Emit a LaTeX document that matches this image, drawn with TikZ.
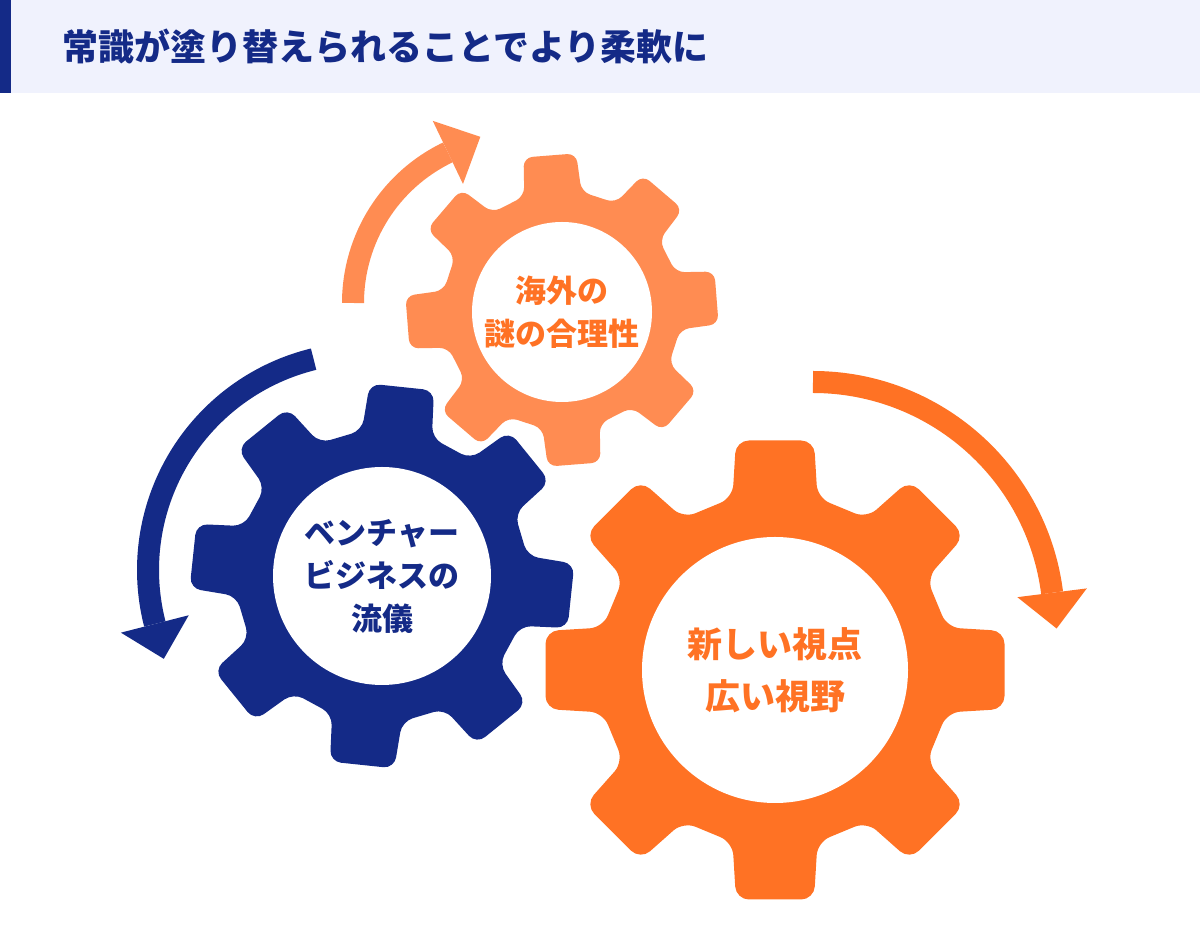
\documentclass[tikz,border=0pt]{standalone}
\usepackage{fontspec}
\newfontfamily\jp{Noto Sans CJK JP}
\usetikzlibrary{calc}
\definecolor{navy}{RGB}{20,42,135}
\definecolor{lorange}{RGB}{255,140,82}
\definecolor{dorange}{RGB}{255,114,36}
\definecolor{hdrbg}{RGB}{240,242,253}

% #1 x, #2 y, #3 outer radius, #4 rotation, #5 colour, #6 corner rounding
\newcommand{\drawgear}[6]{%
  \pgfmathsetmacro{\gRb}{0.7725*#3}%
  \pgfmathsetmacro{\gRt}{1.0144*#3}%
  \pgfmathsetmacro{\gRs}{0.7637*#3}%
  \begin{scope}[shift={(#1,#2)}]
    \fill[#5, rounded corners=#6] (#4-22.5:\gRs)
      \foreach \k in {0,...,7}{
        -- (#4+\k*45-13.86:\gRb) -- (#4+\k*45-9.65:\gRt)
        -- (#4+\k*45+9.65:\gRt) -- (#4+\k*45+13.86:\gRb)
      } -- cycle;
  \end{scope}}

% #1 x, #2 y, #3 radius, #4 start angle, #5 end angle, #6 colour, #7 direction (+1 ccw, -1 cw)
\newcommand{\arcarrow}[7]{%
  \pgfmathsetmacro{\aRo}{#3+35}%
  \pgfmathsetmacro{\aRi}{#3-35}%
  \pgfmathsetmacro{\aTd}{#5+#7*90}%
  \draw[#6, line width=22] (#1,#2) ++(#4:#3) arc[start angle=#4, end angle=#5, radius=#3];
  \fill[#6] ($(#1,#2)+(#5:\aRo)$) -- ($(#1,#2)+(#5:\aRi)$)
    -- ($(#1,#2)+(#5:#3)+(\aTd:36)$) -- cycle;}

\begin{document}
\begin{tikzpicture}[x=1pt,y=1pt]
\useasboundingbox (0,0) rectangle (1200,926);
\fill[white] (0,0) rectangle (1200,926);

% header
\fill[hdrbg] (0,833) rectangle (1200,926);
\fill[navy] (0,833) rectangle (11,926);
\node[font=\jp\bfseries\fontsize{36}{42}\selectfont, text=navy, anchor=west, inner sep=0]
  (title) at (62,879) {常識が塗り替えられることでより柔軟に};

% gears
\drawgear{562}{616}{155}{4.5}{lorange}{9pt}
\drawgear{382}{350}{190}{-6}{navy}{11pt}
\drawgear{775}{256}{229.5}{0}{dorange}{13pt}

\node[circle, fill=white, inner sep=0, minimum size=180] (hole1) at (562,614) {};
\node[circle, fill=white, inner sep=0, minimum size=218] (hole2) at (382,350) {};
\node[circle, fill=white, inner sep=0, minimum size=266] (hole3) at (775,256) {};

\node[font=\jp\bfseries\fontsize{31}{43}\selectfont, text=dorange, align=center]
  (t1) at (hole1) {海外の\\謎の合理性};
\node[font=\jp\bfseries\fontsize{31}{43}\selectfont, text=navy, align=center]
  (t2) at (hole2) {ベンチャー\\ビジネスの\\流儀};
\node[font=\jp\bfseries\fontsize{35}{52}\selectfont, text=dorange, align=center]
  (t3) at (hole3) {新しい視点\\広い視野};

% arrows
\arcarrow{520}{623}{167}{180}{115.6}{lorange}{-1}
\arcarrow{365}{356}{217}{103.7}{194.4}{navy}{1}
\arcarrow{813}{303}{241}{90}{7.2}{dorange}{-1}
\end{tikzpicture}
\end{document}
